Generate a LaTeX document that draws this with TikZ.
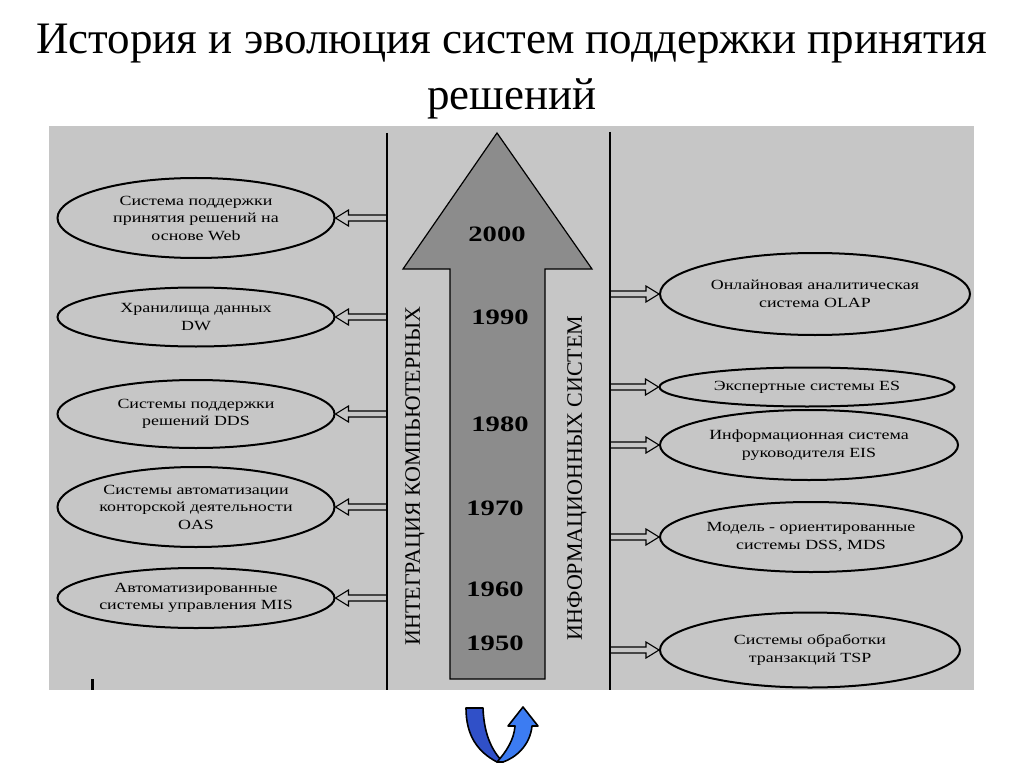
\documentclass[tikz,border=0pt]{standalone}
\usepackage{fontspec}
\setmainfont{Liberation Serif}
\newfontfamily\elfont[FakeStretch=1.28]{Liberation Serif}
\newfontfamily\yrfont[FakeStretch=1.3]{Liberation Serif}
\usetikzlibrary{shapes.geometric,calc}
\definecolor{panel}{HTML}{C6C6C6}
\definecolor{arrowgray}{HTML}{8C8C8C}
\definecolor{bluedark}{HTML}{3050C8}
\definecolor{bluelight}{HTML}{3C7CF2}
\begin{document}
\begin{tikzpicture}[x=1pt,y=-1pt,
  era/.style={ellipse,draw=black,line width=2pt,inner sep=0pt,align=center,
    font=\elfont\fontsize{14}{17.5}\selectfont},
  year/.style={font=\yrfont\bfseries\fontsize{22}{24}\selectfont},
  vtext/.style={rotate=90,font=\fontsize{22}{24}\selectfont},
  hollowL/.style={line width=1.1pt,to path={let \p1=(\tikztostart), \p2=(\tikztotarget) in
    (\x1,\y1+3pt) -- (\x2+13pt,\y1+3pt) -- (\x2+13pt,\y1+8pt) -- (\x2,\y1)
    -- (\x2+13pt,\y1-8pt) -- (\x2+13pt,\y1-3pt) -- (\x1,\y1-3pt)}},
  hollowR/.style={line width=1.1pt,to path={let \p1=(\tikztostart), \p2=(\tikztotarget) in
    (\x1,\y1+3pt) -- (\x2-13pt,\y1+3pt) -- (\x2-13pt,\y1+8pt) -- (\x2,\y1)
    -- (\x2-13pt,\y1-8pt) -- (\x2-13pt,\y1-3pt) -- (\x1,\y1-3pt)}}
]
\useasboundingbox (0,0) rectangle (1024,767);
\fill[white] (0,0) rectangle (1024,767);

% title
\node[align=center,font=\fontsize{45}{56}\selectfont] (title) at (512,72)
  {История и эволюция систем поддержки принятия\\решений};

% panel
\fill[panel] (49,126) rectangle (974,690);
\coordinate (vl) at (387,133);
\coordinate (vlb) at (387,690);
\coordinate (vr) at (610,132);
\coordinate (vrb) at (610,690);
\draw[line width=1.8pt] (vl) -- (vlb);
\draw[line width=1.8pt] (vr) -- (vrb);
\draw[line width=3pt] (92,679) -- (92,690);

% big arrow
\draw[fill=arrowgray,line width=1.2pt,line join=miter]
  (497,133) -- (592,269) -- (545,269) -- (545,679) -- (450,679) -- (450,269) -- (403,269) -- cycle;
\node[year] (y2000) at (497,234) {2000};
\node[year] (y1990) at (500,317) {1990};
\node[year] (y1980) at (500,424) {1980};
\node[year] (y1970) at (495,508) {1970};
\node[year] (y1960) at (495,589) {1960};
\node[year] (y1950) at (495,643) {1950};

\node[vtext] (vt1) at (415,476) {ИНТЕГРАЦИЯ КОМПЬЮТЕРНЫХ};
\node[vtext] (vt2) at (577,478) {ИНФОРМАЦИОННЫХ СИСТЕМ};

% left ellipses
\node[era,minimum width=277pt,minimum height=80pt] (l1) at (196,218)
  {Система поддержки\\принятия решений на\\основе Web};
\node[era,minimum width=277pt,minimum height=59pt] (l2) at (196,317)
  {Хранилища данных\\DW};
\node[era,minimum width=277pt,minimum height=68pt] (l3) at (196,414)
  {Системы поддержки\\решений DDS};
\node[era,minimum width=277pt,minimum height=80pt] (l4) at (196,507)
  {Системы автоматизации\\конторской деятельности\\OAS};
\node[era,minimum width=277pt,minimum height=60pt] (l5) at (196,598)
  {Автоматизированные\\системы управления MIS};

% right ellipses
\node[era,minimum width=310pt,minimum height=82pt] (r1) at (815,294)
  {Онлайновая аналитическая\\система OLAP};
\node[era,minimum width=295pt,minimum height=39pt] (r2) at (807,387)
  {Экспертные системы ES};
\node[era,minimum width=298pt,minimum height=70pt] (r3) at (809,445)
  {Информационная система\\руководителя EIS};
\node[era,minimum width=302pt,minimum height=70pt] (r4) at (811,537)
  {Модель - ориентированные\\системы DSS, MDS};
\node[era,minimum width=300pt,minimum height=75pt] (r5) at (810,650)
  {Системы обработки\\транзакций TSP};

% hollow arrows
\foreach \e in {l1,l2,l3,l4,l5}
  \draw[hollowL] (vl |- \e.east) to (\e.east);
\foreach \e in {r1,r2,r3,r4,r5}
  \draw[hollowR] (vr |- \e.west) to (\e.west);

% U-turn arrow
\draw[fill=bluedark,line width=1.6pt,line join=round]
  (466,708) -- (483,708) .. controls (484,736) and (493,752) .. (503,762)
  -- (497,762) .. controls (478,752) and (466,736) .. (466,708) -- cycle;
\draw[fill=bluelight,line width=1.6pt,line join=round]
  (497,762) .. controls (506,752) and (514,740) .. (515,726) -- (508,726)
  -- (523,707) -- (538,726) -- (532,726) .. controls (530,746) and (515,758) .. (503,762) -- cycle;
\end{tikzpicture}
\end{document}
